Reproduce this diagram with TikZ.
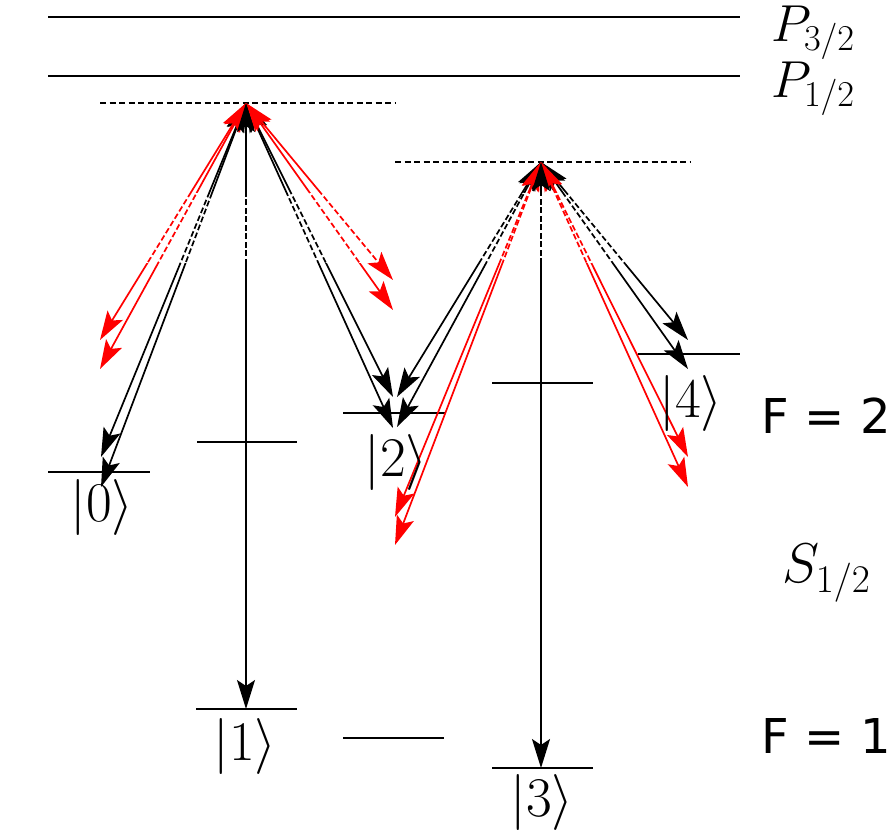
\RequirePackage{fix-cm}
\documentclass[tikz,border=0pt]{standalone}
\usepackage{fontspec}
\newfontfamily\labelsans{DejaVu Sans}
\usetikzlibrary{arrows.meta}
\tikzset{
  lvl/.style={line width=2.3pt},
  virt/.style={line width=1.8pt, dash pattern=on 6pt off 3.5pt},
  arr/.style={line width=1.7pt, <->},
  gapdash/.style={white, line width=2.9pt, dash pattern=on 2.5pt off 6pt},
  ket/.style={font=\fontsize{56}{60}\selectfont, inner sep=0pt},
  mlabel/.style={font=\fontsize{52}{60}\selectfont, inner sep=0pt, anchor=base west},
  flabel/.style={font=\labelsans\fontsize{48}{56}\selectfont, inner sep=0pt, anchor=east},
}
\def\arrowlist{a1/b1L1/black, a1/b1L2/black, a1/b1R1/black, a1/b1R2/black,
  a2/b2L1/black, a2/b2L2/black, a2/b2R1/black, a2/b2R2/black,
  a1/r1L1/red, a1/r1L2/red, a1/r1R1/red, a1/r1R2/red,
  a2/r2L1/red, a2/r2L2/red, a2/r2R1/red, a2/r2R2/red,
  a1/v1/black, a2/v2/black}
\begin{document}
\begin{tikzpicture}[x=1pt,y=-1pt, >={Stealth[length=29pt,width=18pt,inset=6pt]}]
\useasboundingbox (0,0) rectangle (892,836);
% P levels
\coordinate (p3a) at (48,17);  \coordinate (p3b) at (740,17);
\coordinate (p1a) at (48,76);  \coordinate (p1b) at (740,76);
\draw[lvl] (p3a) -- (p3b);
\draw[lvl] (p1a) -- (p1b);
\node[mlabel] (lp3) at (771,41) {$P_{3/2}$};
\node[mlabel] (lp1) at (771,97) {$P_{1/2}$};
% virtual levels
\coordinate (v1a) at (100,103); \coordinate (v1b) at (395,103);
\coordinate (v2a) at (395,162); \coordinate (v2b) at (690,162);
\draw[virt] (v1a) -- (v1b);
\draw[virt] (v2a) -- (v2b);
% F=2 levels
\coordinate (s0a) at (48,472);  \coordinate (s0b) at (150,472);
\coordinate (sma) at (197,442); \coordinate (smb) at (297,442);
\coordinate (s2a) at (343,413); \coordinate (s2b) at (445,413);
\coordinate (spa) at (492,383); \coordinate (spb) at (593,383);
\coordinate (s4a) at (638,354); \coordinate (s4b) at (740,354);
\foreach \u/\w in {s0a/s0b, sma/smb, s2a/s2b, spa/spb, s4a/s4b} {\draw[lvl] (\u) -- (\w);}
% F=1 levels
\coordinate (s1a) at (196,709); \coordinate (s1b) at (297,709);
\coordinate (sza) at (343,738); \coordinate (szb) at (444,738);
\coordinate (s3a) at (492,768); \coordinate (s3b) at (593,768);
\foreach \u/\w in {s1a/s1b, sza/szb, s3a/s3b} {\draw[lvl] (\u) -- (\w);}
% apexes and arrow ends
\coordinate (a1) at (246,103);
\coordinate (a2) at (541,162);
\coordinate (r1L1) at (100,340); \coordinate (r1L2) at (100,369);
\coordinate (b1L1) at (101,457); \coordinate (b1L2) at (101,487);
\coordinate (v1) at (246,709);
\coordinate (b1R1) at (393,397); \coordinate (b1R2) at (393,428);
\coordinate (r1R1) at (393,280); \coordinate (r1R2) at (393,310);
\coordinate (b2L1) at (397,397); \coordinate (b2L2) at (397,427);
\coordinate (r2L1) at (395,517); \coordinate (r2L2) at (395,545);
\coordinate (v2) at (541,768);
\coordinate (r2R1) at (688,457); \coordinate (r2R2) at (688,487);
\coordinate (b2R1) at (688,340); \coordinate (b2R2) at (688,369);
\foreach \s/\t/\c in \arrowlist {\draw[arr,\c] (\s) -- (\t);}
% dashed middle band
\begin{scope}
  \clip (0,193) rectangle (892,262);
  \foreach \s/\t/\c in \arrowlist {\draw[gapdash] (\s) -- (\t);}
\end{scope}
% labels
\node[ket] (k0) at (102,507) {$|0\rangle$};
\node[ket] (k1) at (245,746) {$|1\rangle$};
\node[ket] (k2) at (396,462) {$|2\rangle$};
\node[ket] (k3) at (542,802) {$|3\rangle$};
\node[ket] (k4) at (691,403) {$|4\rangle$};
\node[flabel] (f2) at (891,416) {F = 2};
\node[flabel] (f1) at (891,736) {F = 1};
\node[mlabel, font=\fontsize{56}{60}\selectfont] (ls) at (782,582) {$S_{1/2}$};
\end{tikzpicture}
\end{document}
